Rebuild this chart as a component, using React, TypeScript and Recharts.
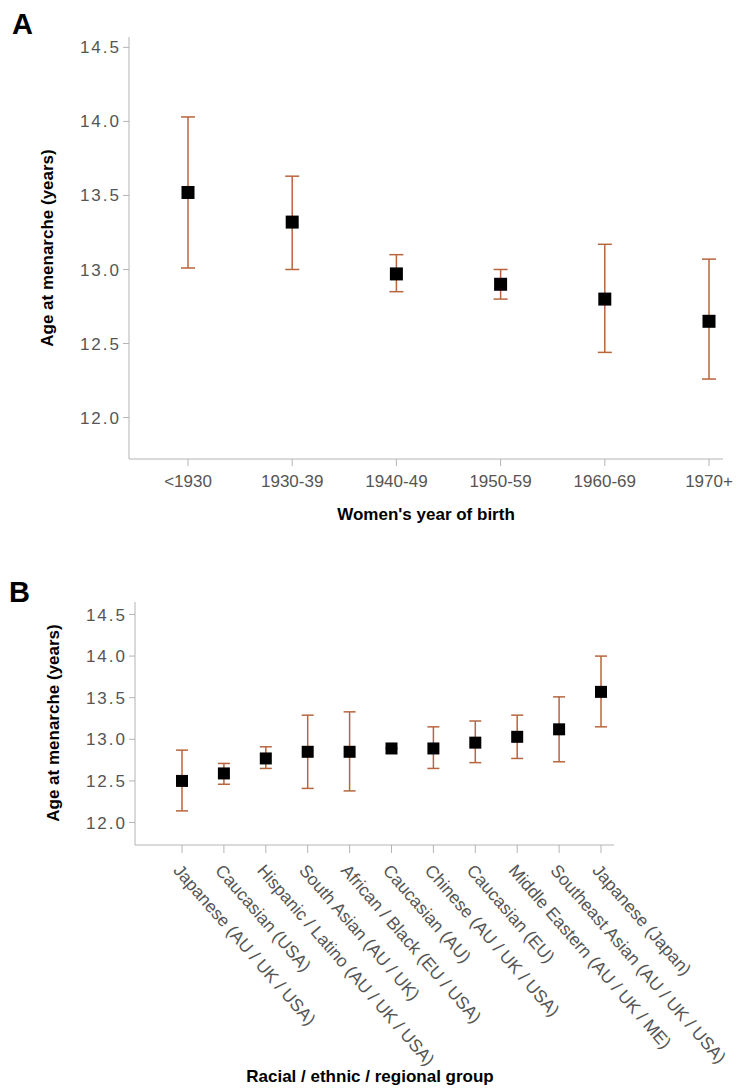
import { ComposedChart, Scatter, ErrorBar, XAxis, YAxis } from 'recharts'

const birthCohorts = ['<1930', '1930-39', '1940-49', '1950-59', '1960-69', '1970+']
const cohortMean = [13.52, 13.32, 12.97, 12.9, 12.8, 12.65]
const cohortLow = [13.01, 13.0, 12.85, 12.8, 12.44, 12.26]
const cohortHigh = [14.03, 13.63, 13.1, 13.0, 13.17, 13.07]

const groups = [
  'Japanese (AU / UK / USA)',
  'Caucasian (USA)',
  'Hispanic / Latino (AU / UK / USA)',
  'South Asian (AU / UK)',
  'African / Black (EU / USA)',
  'Caucasian (AU)',
  'Chinese (AU / UK / USA)',
  'Caucasian (EU)',
  'Middle Eastern (AU / UK / ME)',
  'Southeast Asian (AU / UK / USA)',
  'Japanese (Japan)',
]
const groupMean = [12.5, 12.59, 12.77, 12.85, 12.85, 12.89, 12.89, 12.96, 13.03, 13.12, 13.57]
const groupLow = [12.14, 12.46, 12.65, 12.41, 12.38, 12.89, 12.65, 12.72, 12.77, 12.73, 13.15]
const groupHigh = [12.87, 12.71, 12.91, 13.29, 13.33, 12.89, 13.15, 13.22, 13.29, 13.51, 14.0]

const yTicks = [12, 12.5, 13, 13.5, 14, 14.5]

const cohortData = birthCohorts.map((name, i) => ({
  name,
  mean: cohortMean[i],
  err: [cohortMean[i] - cohortLow[i], cohortHigh[i] - cohortMean[i]],
}))
const groupData = groups.map((name, i) => ({
  name,
  mean: groupMean[i],
  err: [groupMean[i] - groupLow[i], groupHigh[i] - groupMean[i]],
}))

const FONT = '"Liberation Sans", Arial, sans-serif'
const AXIS = '#b4b4b4'
const TEXT = '#555'
const BAR = '#b8653e'

const square = (size: number) => (props: any) => (
  <rect x={props.cx - size / 2} y={props.cy - size / 2} width={size} height={size} fill="#000" />
)

// y tick labels in the original look spaced out
const yTick = { fill: TEXT, fontSize: 17, fontFamily: FONT, letterSpacing: 2 }

const RotatedTick = (props: any) => {
  const { x, y, payload } = props
  return (
    <g transform={`translate(${x - 5},${y + 12})`}>
      <text
        transform="rotate(49)"
        textAnchor="start"
        dominantBaseline="central"
        fill={TEXT}
        fontSize={17.5}
        fontFamily={FONT}
      >
        {payload.value}
      </text>
    </g>
  )
}

const abs = (left: number, top: number, extra: any = {}) => ({
  position: 'absolute' as const,
  left,
  top,
  fontFamily: FONT,
  whiteSpace: 'nowrap' as const,
  ...extra,
})

export default function App() {
  return (
    <div style={{ position: 'absolute', left: 0, top: 0, width: 738, height: 1091, background: '#fff' }}>
      <div style={abs(12, 8, { fontSize: 29, fontWeight: 'bold' })}>A</div>
      <ComposedChart width={738} height={540} data={cohortData} margin={{ top: 37, right: 15, bottom: 0, left: 0 }}>
        <XAxis
          dataKey="name"
          scale="point"
          padding={{ left: 59, right: 14 }}
          height={81}
          stroke={AXIS}
          tickSize={7}
          tickMargin={9}
          tick={{ fill: TEXT, fontSize: 17, fontFamily: FONT }}
        />
        <YAxis
          type="number"
          domain={[11.72, 14.57]}
          ticks={yTicks}
          tickFormatter={(v: number) => v.toFixed(1)}
          width={129}
          stroke={AXIS}
          tickSize={6}
          tickMargin={2}
          tick={yTick}
        />
        <Scatter dataKey="mean" shape={square(13)} isAnimationActive={false}>
          <ErrorBar dataKey="err" direction="y" width={7} stroke={BAR} strokeWidth={1.5} />
        </Scatter>
      </ComposedChart>
      <div style={abs(48, 248, { fontSize: 17, fontWeight: 'bold', transform: 'translate(-50%, -50%) rotate(-90deg)' })}>
        Age at menarche (years)
      </div>
      <div style={abs(426, 515, { fontSize: 17, fontWeight: 'bold', transform: 'translate(-50%, -50%)' })}>
        Women's year of birth
      </div>

      <div style={abs(9, 576, { fontSize: 29, fontWeight: 'bold' })}>B</div>
      <div style={{ position: 'absolute', left: 0, top: 560 }}>
        <ComposedChart width={738} height={531} data={groupData} margin={{ top: 42, right: 124, bottom: 0, left: 0 }}>
          <XAxis
            dataKey="name"
            scale="point"
            padding={{ left: 47, right: 13 }}
            height={246}
            stroke={AXIS}
            tickSize={8}
            interval={0}
            tick={<RotatedTick />}
          />
          <YAxis
            type="number"
            domain={[11.73, 14.65]}
            ticks={yTicks}
            tickFormatter={(v: number) => v.toFixed(1)}
            width={135}
            stroke={AXIS}
            tickSize={6}
            tickMargin={2}
            tick={yTick}
          />
          <Scatter dataKey="mean" shape={square(12)} isAnimationActive={false}>
            <ErrorBar dataKey="err" direction="y" width={6} stroke={BAR} strokeWidth={1.5} />
          </Scatter>
        </ComposedChart>
      </div>
      <div style={abs(54, 723, { fontSize: 17, fontWeight: 'bold', transform: 'translate(-50%, -50%) rotate(-90deg)' })}>
        Age at menarche (years)
      </div>
      <div style={abs(370, 1077, { fontSize: 17, fontWeight: 'bold', transform: 'translate(-50%, -50%)' })}>
        Racial / ethnic / regional group
      </div>
    </div>
  )
}
